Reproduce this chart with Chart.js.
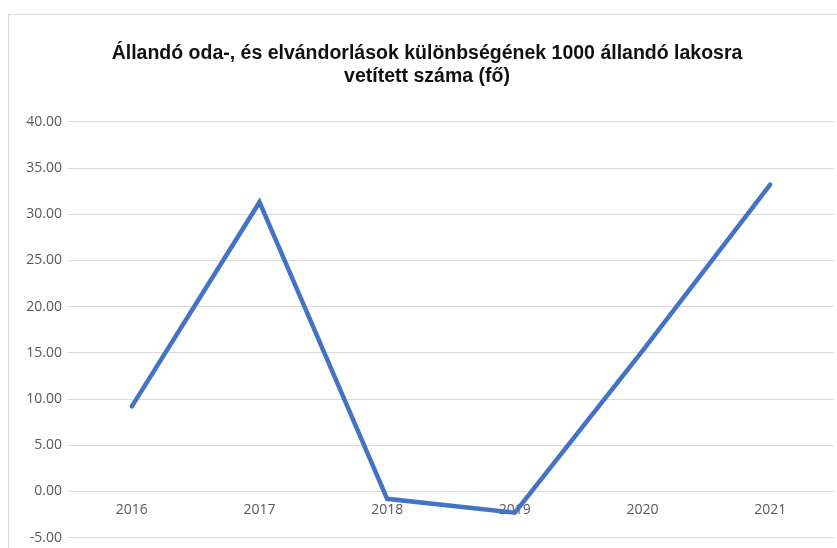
<!DOCTYPE html>
<html>
<head>
<meta charset="utf-8">
<script src="https://cdn.jsdelivr.net/npm/chart.js@4"></script>
<style>
    html, body { margin: 0; padding: 0; background: #fff; overflow: hidden; }
    #wrap { position: relative; width: 837px; height: 548px; overflow: hidden; }
    #frame {
        position: absolute; left: 8px; top: 14px;
        width: 900px; height: 600px;
        border: 1px solid #d9d9d9;
    }
    canvas { position: absolute; left: 0; top: 0; }
</style>
</head>
<body>
<div id="wrap">
    <div id="frame"></div>
    <canvas id="chart" width="837" height="552"></canvas>
</div>
<script>
// Évek és értékek (fő / 1000 állandó lakos)
const years = ["2016", "2017", "2018", "2019", "2020", "2021"];
const values = [9.2, 31.3, -0.8, -2.3, 15.2, 33.2];
const titleLines = [
    "Állandó oda-, és elvándorlások különbségének 1000 állandó lakosra",
    "vetített száma (fő)",
];
const yMin = -5;
const yMax = 40;
const yStep = 5;

document.addEventListener("DOMContentLoaded", function () {
    const ctx = document.getElementById("chart").getContext("2d");

    new Chart(ctx, {
        type: "line",
        data: {
            labels: years,
            datasets: [
                {
                    data: values,
                    borderColor: "#4472C4",
                    borderWidth: 4.5,
                    borderCapStyle: "round",
                    borderJoinStyle: "miter",
                    pointRadius: 0,
                    tension: 0,
                    fill: false,
                },
            ],
        },
        options: {
            responsive: false,
            animation: false,
            layout: { padding: { left: 20, right: 3, top: 0, bottom: 0 } },
            plugins: {
                legend: { display: false },
                tooltip: { enabled: false },
                title: {
                    display: true,
                    text: titleLines,
                    color: "#111",
                    font: { family: "Liberation Sans", size: 19.5, weight: "bold" },
                    lineHeight: 1.1,
                    padding: { top: 42, bottom: 33 },
                },
            },
            scales: {
                x: {
                    type: "category",
                    offset: true,
                    position: { y: 0 },
                    grid: { display: false, drawTicks: false },
                    border: { display: false },
                    ticks: {
                        color: "#595959",
                        font: { family: "Open Sans", size: 14 },
                        padding: 10,
                    },
                    afterFit: function (scale) {
                        scale.height = 4;
                    },
                },
                y: {
                    min: yMin,
                    max: yMax,
                    grid: { color: "#d9d9d9", lineWidth: 1, drawTicks: false },
                    border: { display: false },
                    ticks: {
                        stepSize: yStep,
                        color: "#595959",
                        font: { family: "Open Sans", size: 14 },
                        padding: 6,
                        callback: (v) => Number(v).toFixed(2),
                    },
                    afterFit: function (scale) {
                        scale.width = 48;
                    },
                },
            },
        },
    });
});
</script>
</body>
</html>
